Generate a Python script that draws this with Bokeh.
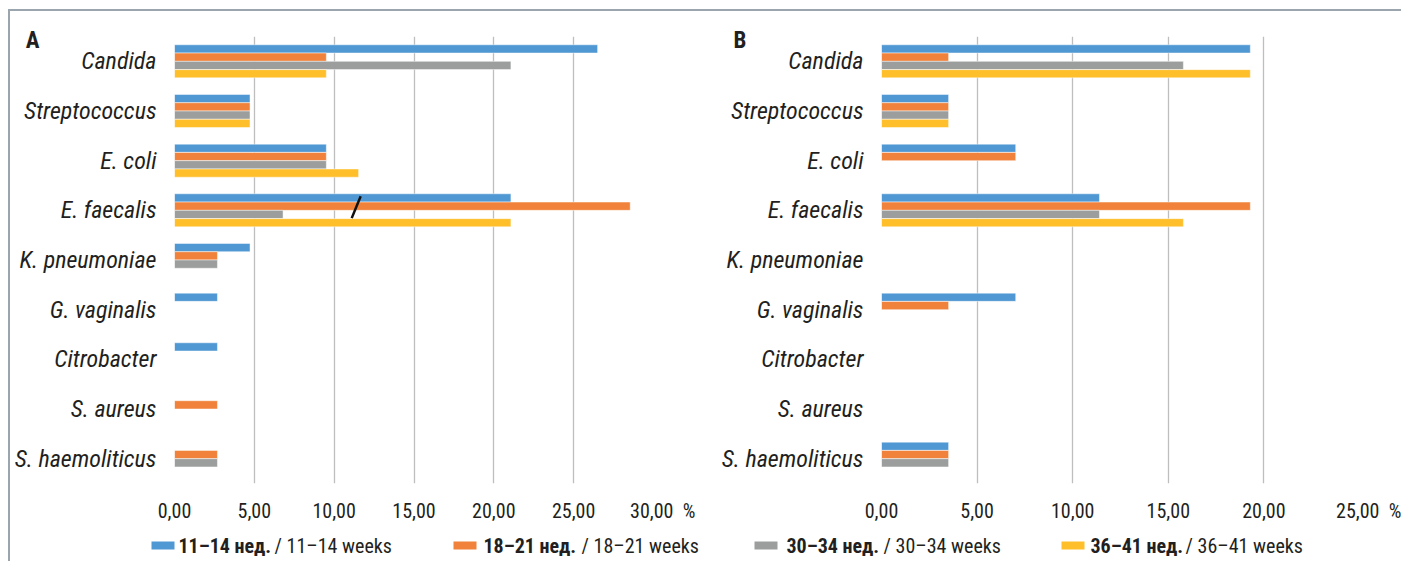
from bokeh.plotting import figure
from bokeh.models import Range1d, FactorRange, FixedTicker, LinearAxis, ColumnDataSource
from bokeh.layouts import row, column
from bokeh.transform import dodge
from bokeh.core.properties import value
from bokeh.embed import file_html
from bokeh.resources import INLINE

# ---------------- data ----------------
categories = ["Candida", "Streptococcus", "E. coli", "E. faecalis", "K. pneumoniae",
              "G. vaginalis", "Citrobacter", "S. aureus", "S. haemoliticus"]
series_ru = ["11–14 нед.", "18–21 нед.", "30–34 нед.", "36–41 нед."]
series_en = ["11–14 weeks", "18–21 weeks", "30–34 weeks", "36–41 weeks"]

a_w11_14 = [26.5, 4.73, 9.51, 21.07, 4.73, 2.69, 2.69, 0, 0]
a_w18_21 = [9.51, 4.73, 9.51, 28.54, 2.69, 0, 0, 2.69, 2.69]
a_w30_34 = [21.07, 4.73, 9.51, 6.80, 2.69, 0, 0, 0, 2.69]
a_w36_41 = [9.51, 4.73, 11.53, 21.07, 0, 0, 0, 0, 0]

b_w11_14 = [19.29, 3.51, 7.02, 11.40, 0, 7.02, 0, 0, 3.51]
b_w18_21 = [3.51, 3.51, 7.02, 19.29, 0, 3.51, 0, 0, 3.51]
b_w30_34 = [15.79, 3.51, 0, 11.40, 0, 0, 0, 0, 3.51]
b_w36_41 = [19.29, 3.51, 0, 15.79, 0, 0, 0, 0, 0]

a_ticks = [0, 5, 10, 15, 20, 25, 30]
a_tick_labels = ["0,00", "5,00", "10,00", "15,00", "20,00", "25,00", "30,00"]
b_ticks = [0, 5, 10, 15, 20, 25]
b_tick_labels = ["0,00", "5,00", "10,00", "15,00", "20,00", "25,00"]
unit = "%"

# ---------------- style ----------------
colors = ["#5098D3", "#F0823B", "#9C9E9E", "#FEBF2B"]
offsets = [0.25, 0.0833, -0.0833, -0.25]
BAR_H = 0.166
TXT = "#231F20"
FONT = "'Liberation Sans Narrow', 'Roboto Condensed', 'Liberation Sans', sans-serif"
GRID = "#BEBEBE"
FRAME = "#9AA5AE"
NB = "\u00a0"
LETTER_POS = 8.92   # near the top of the category axis (synthetic coordinate)


def panel(series, xmax, ticks, tick_labels, letter, letter_standoff, width, mbl, mbr):
    p = figure(width=width, height=514, output_backend="svg", toolbar_location=None,
               y_range=FactorRange(*list(reversed(categories))),
               x_range=Range1d(0, xmax),
               min_border_left=mbl, min_border_right=mbr, min_border_top=25, min_border_bottom=41)
    p.outline_line_color = None
    p.background_fill_color = "white"
    p.border_fill_color = "white"
    for vals, off, col in zip(series, offsets, colors):
        cats = [c for c, v in zip(categories, vals) if v > 0]
        vv = [v for v in vals if v > 0]
        src = ColumnDataSource(dict(cat=cats, val=vv))
        p.hbar(y=dodge("cat", off, range=p.y_range), left=0, right="val", height=BAR_H,
               source=src, fill_color=col, line_color="white", line_width=0.8, line_alpha=0.6)
    p.ygrid.grid_line_color = None
    p.xgrid.grid_line_color = GRID
    p.xgrid.grid_line_width = 1.3
    p.xaxis.ticker = FixedTicker(ticks=ticks)
    labels = list(tick_labels)
    labels[-1] = NB * 4 + labels[-1] + NB * 2 + unit
    p.xaxis.major_label_overrides = {t: l for t, l in zip(ticks, labels)}
    for ax in (p.xaxis, p.yaxis):
        ax.axis_line_color = None
        ax.major_tick_line_color = None
        ax.minor_tick_line_color = None
        ax.major_label_text_font = FONT
        ax.major_label_text_color = TXT
    p.xaxis.major_label_text_font_size = "20px"
    p.xaxis.major_label_standoff = 9
    p.yaxis.major_label_text_font_size = "24px"
    p.yaxis.major_label_text_font_style = "italic"
    p.yaxis.major_label_standoff = 12

    # panel letter, drawn as the single label of a second left axis
    lax = LinearAxis(ticker=FixedTicker(ticks=[LETTER_POS]),
                     major_label_overrides={LETTER_POS: letter})
    lax.axis_line_color = None
    lax.major_tick_line_color = None
    lax.minor_tick_line_color = None
    lax.major_tick_out = 0
    lax.major_label_text_font = FONT
    lax.major_label_text_font_style = "bold"
    lax.major_label_text_font_size = "23px"
    lax.major_label_text_color = TXT
    lax.major_label_standoff = letter_standoff
    p.add_layout(lax, "left")
    return p


pa = panel([a_w11_14, a_w18_21, a_w30_34, a_w36_41], 30, a_ticks, a_tick_labels, "A", -28,
           700, 164, 57)
pb = panel([b_w11_14, b_w18_21, b_w30_34, b_w36_41], 25, b_ticks, b_tick_labels, "B", -28,
           691, 171, 42)

# annotation slash on E. faecalis (panel A)
slash = ColumnDataSource(dict(cat=["E. faecalis"], x0=[11.1], x1=[11.66]))
pa.segment(x0="x0", x1="x1", y0=dodge("cat", -0.157, range=pa.y_range),
           y1=dodge("cat", 0.285, range=pa.y_range), source=slash,
           line_color="#111111", line_width=2.5)

# ---------------- legend strip (page-pixel coordinates) ----------------
swatch_left = [151, 453, 754, 1061]
bold_left = [178, 483, 786, 1090]
norm_left = [274, 581, 883, 1185]
leg = figure(width=1391, height=36, output_backend="svg", toolbar_location=None,
             x_range=Range1d(10, 1401), y_range=Range1d(561, 525),
             min_border=0, x_axis_type=None, y_axis_type=None)
leg.outline_line_color = None
leg.grid.visible = False
leg.quad(left=swatch_left, right=[s + 23 for s in swatch_left], top=[541] * 4, bottom=[549] * 4,
         fill_color=colors, line_color=None)
leg.text(x=bold_left, y=[545] * 4, text=series_ru, text_font=value(FONT), text_font_style="bold",
         text_font_size="20px", text_color=TXT, text_baseline="middle")
leg.text(x=norm_left, y=[545] * 4, text=["/ " + s for s in series_en], text_font=value(FONT),
         text_font_size="20px", text_color=TXT, text_baseline="middle")

layout = column(row(pa, pb), leg,
                styles={"border-top": "2px solid " + FRAME, "border-left": "2px solid " + FRAME,
                        "margin-left": "8px", "margin-top": "9px"})
open("out.html", "w").write(file_html(layout, INLINE))
